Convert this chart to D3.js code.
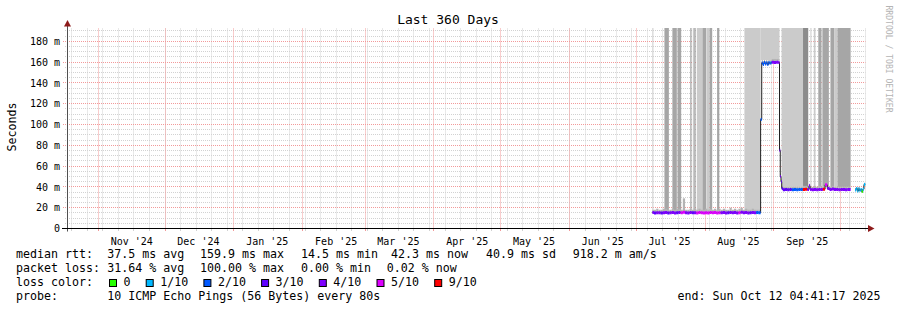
<!DOCTYPE html>
<html><head><meta charset="utf-8">
<script src="https://cdn.jsdelivr.net/npm/d3@7/dist/d3.min.js"></script>
<style>
body{margin:0;background:#fff}
svg{display:block}
text{font-family:"DejaVu Sans Mono",monospace;fill:#000}
</style>
</head><body>
<svg id="chart" width="897" height="310"></svg>
<script>
// ---------- data ----------
const title = "Last 360 Days";
const yLabel = "Seconds";
const watermark = "RRDTOOL / TOBI OETIKER";
const endTime = "2025-10-12 04:41:17";
const spanDays = 360;
const yMax = 192.3;                       // ms shown at top
const yTicks = [0, 20, 40, 60, 80, 100, 120, 140, 160, 180];
const lossLabels = ["0", "1/10", "2/10", "3/10", "4/10", "5/10", "9/10"];
const lossColors = ["#26ff00", "#00b8ff", "#0059ff", "#5e00ff", "#7e00ff", "#dd00ff", "#ff0000"];
const statsRtt = ["median rtt:", "37.5 ms avg", "159.9 ms max", "14.5 ms min", "42.3 ms now", "40.9 ms sd", "918.2 m am/s"];
const statsLoss = ["packet loss:", "31.64 % avg", "100.00 % max", "0.00 % min", "0.02 % now"];
const probeText = ["probe:", "10 ICMP Echo Pings (56 Bytes) every 80s"];
const endText = "end: Sun Oct 12 04:41:17 2025";

// median rtt [time, median ms, loss index, max ping ms]
const median = [
 ["2025-07-08 07",15.3,4,18],["2025-07-09 00",15.0,3,18],["2025-07-10 00",15.2,4,19],["2025-07-11 00",15.1,4,18],
 ["2025-07-12 00",14.9,3,18],["2025-07-13 00",15.2,4,19],["2025-07-14 00",15.4,4,19],["2025-07-15 00",15.0,3,18],
 ["2025-07-16 00",15.1,4,18],["2025-07-17 00",15.3,4,19],["2025-07-18 00",15.0,4,18],["2025-07-19 00",15.2,3,19],
 ["2025-07-20 00",15.5,4,19],["2025-07-21 00",15.1,5,18],["2025-07-22 00",15.6,5,29],["2025-07-23 00",15.2,4,18],
 ["2025-07-24 00",15.0,4,18],["2025-07-25 00",15.3,4,19],["2025-07-26 00",15.1,3,18],["2025-07-27 00",15.2,4,19],
 ["2025-07-28 00",15.0,5,18],["2025-07-29 00",15.3,5,19],["2025-07-30 00",15.1,5,18],["2025-07-31 00",14.8,5,18],
 ["2025-08-01 00",15.2,5,19],["2025-08-02 00",15.0,5,18],["2025-08-03 00",15.4,5,19],["2025-08-04 00",15.1,5,18],
 ["2025-08-05 00",15.3,5,19],["2025-08-06 00",15.0,5,18],["2025-08-07 00",15.2,5,19],["2025-08-08 00",15.1,4,18],
 ["2025-08-09 00",15.4,4,19],["2025-08-10 00",15.0,4,18],["2025-08-11 00",15.2,3,18],["2025-08-12 00",15.5,4,20],
 ["2025-08-13 00",15.1,4,18],["2025-08-14 00",15.3,4,19],["2025-08-15 00",15.0,4,18],["2025-08-16 00",15.2,5,19],
 ["2025-08-17 00",15.6,4,20],["2025-08-18 00",15.1,4,18],["2025-08-19 00",15.3,4,19],["2025-08-20 00",15.0,4,18],
 ["2025-08-21 00",15.2,3,18],["2025-08-22 00",15.4,4,19],["2025-08-23 00",15.1,4,18],["2025-08-24 00",15.3,2,18],
 ["2025-08-25 00",15.2,2,18],["2025-08-26 00",104.8,2,106],["2025-08-26 12",159.2,2,162],["2025-08-27 00",157.8,2,161],
 ["2025-08-27 12",159.6,2,162],["2025-08-28 00",158.2,2,161],["2025-08-28 12",159.4,2,162],["2025-08-29 00",157.6,2,161],
 ["2025-08-29 12",159.5,2,162],["2025-08-30 00",158.8,2,162],["2025-08-30 12",159.3,2,162],["2025-08-31 00",159.9,4,163],
 ["2025-09-01 00",159.6,4,163],["2025-09-02 00",159.8,4,163],["2025-09-03 00",159.5,4,163],["2025-09-03 12",75.0,4,78],
 ["2025-09-03 20",50.0,4,53],["2025-09-04 04",45.0,3,48],["2025-09-04 12",38.5,3,41],["2025-09-05 00",37.2,3,40],
 ["2025-09-06 00",37.5,3,40],["2025-09-07 00",37.3,3,40],["2025-09-08 00",37.4,3,40],["2025-09-09 00",37.2,2,40],
 ["2025-09-10 00",37.5,2,40],["2025-09-11 00",37.3,2,40],["2025-09-12 00",37.4,2,40],["2025-09-13 00",37.6,2,40],
 ["2025-09-14 00",37.5,6,41],["2025-09-15 00",37.8,6,41],["2025-09-16 00",37.4,4,40],["2025-09-16 18",41.0,4,43],
 ["2025-09-17 06",37.6,4,40],["2025-09-18 00",37.3,4,40],["2025-09-19 00",37.5,4,41],["2025-09-20 00",37.2,4,40],
 ["2025-09-21 00",37.6,4,41],["2025-09-22 00",37.4,4,40],["2025-09-23 00",37.8,6,41],["2025-09-24 00",42.0,5,44],
 ["2025-09-25 00",38.4,4,41],["2025-09-26 00",37.5,4,40],["2025-09-27 00",38.0,4,41],["2025-09-28 00",37.4,4,40],
 ["2025-09-29 00",37.6,4,40],["2025-09-30 00",37.3,4,40],["2025-10-01 00",37.5,4,40],["2025-10-02 00",37.4,4,40],
 ["2025-10-03 00",37.2,4,40],["2025-10-04 00",37.5,4,40],["2025-10-05 12",null,0,null],["2025-10-07 12",37.0,1,39],
 ["2025-10-08 00",38.5,1,40],["2025-10-08 12",36.0,1,38],["2025-10-09 00",38.2,1,40],["2025-10-09 12",36.5,1,38],
 ["2025-10-10 00",37.5,1,39],["2025-10-10 12",35.5,0,37],["2025-10-11 00",37.8,1,40],["2025-10-11 12",42.3,1,44]
];

// tall smoke bands (pings beyond the top): [from, to, lowest ping ms, shade level]
const smokeBands = [
 ["2025-07-08 07","2025-07-08 14",17,0],["2025-07-13 17","2025-07-15 17",17,1],["2025-07-17 07","2025-07-19 07",17,1],
 ["2025-07-19 14","2025-07-21 06",17,1],["2025-07-25 10","2025-07-25 18",17,2],["2025-07-26 12","2025-07-27 02",17,0],
 ["2025-07-27 05","2025-07-27 17",17,2],["2025-07-28 07","2025-07-30 17",17,0],["2025-07-30 19","2025-08-01 14",17,1],
 ["2025-08-01 19","2025-08-02 19",17,0],["2025-08-03 00","2025-08-04 05",17,1],["2025-08-06 10","2025-08-07 10",17,1],
 ["2025-08-18 17","2025-08-26 00",17,0],["2025-08-26 00","2025-09-03 12",162,0],["2025-09-04 10","2025-09-14 02",40,0],
 ["2025-09-14 02","2025-09-16 10",40,2],["2025-09-17 10","2025-09-17 18",40,0],["2025-09-18 22","2025-09-19 17",40,0],
 ["2025-09-21 00","2025-09-22 10",40,1],["2025-09-22 19","2025-09-25 17",40,1],["2025-09-26 10","2025-09-28 05",40,1],
 ["2025-09-28 05","2025-09-29 14",40,0],["2025-09-29 14","2025-10-05 12",40,1]
];
const shadeColors = ["#cbcbcb", "#a6a6a6", "#8c8c8c"];

// ---------- chart ----------
const parseT = d3.timeParse("%Y-%m-%d %H");
const end = d3.timeParse("%Y-%m-%d %H:%M:%S")(endTime);
const start = d3.timeDay.offset(end, -spanDays);
const svg = d3.select("#chart");
const X0 = 65.5, X1 = 865.5, Y0 = 228.5, Y1 = 28.5;
const x = d3.scaleTime().domain([start, end]).range([X0, X1]);
const y = d3.scaleLinear().domain([0, yMax]).range([Y0, Y1]);
const px = v => Math.round(v) + 0.5;

svg.append("rect").attr("width", 897).attr("height", 310).attr("fill", "#fff");

const plot = svg.append("g");
plot.append("clipPath").attr("id", "clip").append("rect")
  .attr("x", X0).attr("y", Y1 - 0.5).attr("width", X1 - X0).attr("height", Y0 - Y1 + 0.5);

const minorCol = "#d2d2d2", majorCol = "#f29a9a";
// grid: minor horizontal every 5 ms
const minorY = d3.range(5, yMax, 5).filter(v => v % 20 !== 0);
const grid = plot.append("g");
minorY.forEach(v => {
  grid.append("line").attr("x1", 65).attr("x2", X1).attr("y1", px(y(v) - 0.5)).attr("y2", px(y(v) - 0.5))
    .attr("stroke", minorCol).attr("stroke-dasharray", "1,1");
});
// minor vertical: weeks
const weeks = d3.timeSunday.range(start, end);
const months = d3.timeMonth.range(d3.timeMonth.ceil(start), end);
weeks.forEach(d => {
  const xx = px(x(d) - 0.5);
  grid.append("line").attr("x1", xx).attr("x2", xx).attr("y1", Y1).attr("y2", Y0)
    .attr("stroke", minorCol).attr("stroke-dasharray", "1,1");
  grid.append("line").attr("x1", xx).attr("x2", xx).attr("y1", Y0).attr("y2", Y0 + 2.5).attr("stroke", minorCol);
});
// major horizontal
yTicks.filter(v => v > 0).forEach(v => {
  const yy = px(y(v) - 0.5);
  grid.append("line").attr("x1", 63).attr("x2", X1).attr("y1", yy).attr("y2", yy)
    .attr("stroke", majorCol).attr("stroke-dasharray", "1,1");
});
// major vertical: months
months.forEach(d => {
  const xx = px(x(d) - 0.5);
  grid.append("line").attr("x1", xx).attr("x2", xx).attr("y1", Y1).attr("y2", Y0)
    .attr("stroke", majorCol).attr("stroke-dasharray", "1,1");
  grid.append("line").attr("x1", xx).attr("x2", xx).attr("y1", Y0).attr("y2", Y0 + 2.5).attr("stroke", majorCol);
});

// data layer
const data = plot.append("g").attr("clip-path", "url(#clip)");

smokeBands.forEach(b => {
  const t0 = parseT(b[0]), t1 = parseT(b[1]);
  data.append("rect").attr("x", x(t0)).attr("width", Math.max(1, x(t1) - x(t0)))
    .attr("y", Y1 - 1).attr("height", y(b[2]) - Y1 + 1).attr("fill", shadeColors[b[3]]);
});

const pts = median.map((r, i) => ({
  t: parseT(r[0]), v: r[1], loss: r[2], hi: r[3],
  tn: i < median.length - 1 ? parseT(median[i + 1][0]) : end
}));

// low smoke (spread of pings above the median)
pts.forEach(p => {
  if (p.v == null) return;
  data.append("rect").attr("x", x(p.t)).attr("width", x(p.tn) - x(p.t))
    .attr("y", y(p.hi)).attr("height", Math.max(0, y(p.v) - y(p.hi))).attr("fill", "#b4b4b4");
});

// dark median connector line
const line = d3.line().defined(d => d.v != null).x(d => x(d.t)).y(d => y(d.v)).curve(d3.curveStepAfter);
data.append("path").datum(pts.concat([{ t: pts[pts.length - 1].tn, v: pts[pts.length - 1].v }]))
  .attr("d", line).attr("fill", "none").attr("stroke", "#202020").attr("stroke-width", 1);

// loss coloured median segments
pts.forEach(p => {
  if (p.v == null) return;
  data.append("line").attr("x1", x(p.t)).attr("x2", x(p.tn)).attr("y1", y(p.v)).attr("y2", y(p.v))
    .attr("stroke", lossColors[p.loss]).attr("stroke-width", 3);
});

// axes
plot.append("line").attr("x1", 67.5).attr("x2", 67.5).attr("y1", Y0 + 3).attr("y2", 24).attr("stroke", "#505050");
plot.append("line").attr("x1", 62).attr("x2", 869).attr("y1", Y0).attr("y2", Y0).attr("stroke", "#000");
plot.append("path").attr("d", "M64,26.5 L71,26.5 L67.5,20 Z").attr("fill", "#8e1b1b");
plot.append("path").attr("d", "M868,225 L868,232 L874.5,228.5 Z").attr("fill", "#8e1b1b");

// y tick labels
yTicks.forEach(v => {
  svg.append("text").attr("x", 60).attr("y", y(v) + 3.8).attr("text-anchor", "end")
    .style("font-size", "10px").text(v === 0 ? "0" : v + " m");
});
// x month labels centered mid month
const fmt = d3.timeFormat("%b '%y");
months.concat([d3.timeMonth.floor(start)]).forEach(d => {
  const mid = d3.timeDay.offset(d, 15);
  if (mid < start || mid > end) return;
  svg.append("text").attr("x", x(mid)).attr("y", 244.5).attr("text-anchor", "middle")
    .style("font-size", "10px").text(fmt(d));
});

// title and axis title
svg.append("text").attr("x", 448).attr("y", 23.5).attr("text-anchor", "middle").style("font-size", "13px").text(title);
svg.append("text").attr("transform", "translate(15.5,127) rotate(-90)").attr("text-anchor", "middle")
  .style("font-size", "11.6px").text(yLabel);
svg.append("text").attr("transform", "translate(886,59) rotate(90)").attr("text-anchor", "middle")
  .style("font-size", "8.1px").style("fill", "#b4b4b4").text(watermark);

// legend
const fs = "11.63px";
const statXRtt = [16, 107.3, 200, 301, 391, 486, 572.7];
const statXLoss = [16, 107.3, 200, 301, 386.7];
statsRtt.forEach((s, i) => svg.append("text").attr("x", statXRtt[i]).attr("y", 258.3).style("font-size", fs).text(s));
statsLoss.forEach((s, i) => svg.append("text").attr("x", statXLoss[i]).attr("y", 272.3).style("font-size", fs).text(s));
svg.append("text").attr("x", 16).attr("y", 286.3).style("font-size", fs).text("loss color:");
let cx = 109;
lossLabels.forEach((l, i) => {
  svg.append("rect").attr("x", cx + 0.5).attr("y", 279.5).attr("width", 7).attr("height", 7)
    .attr("fill", lossColors[i]).attr("stroke", "#000");
  const t = svg.append("text").attr("x", cx + 14.5).attr("y", 286.3).style("font-size", fs).text(l);
  cx = cx + 14.5 + t.node().getComputedTextLength() + 15.2;
});
svg.append("text").attr("x", 16).attr("y", 300.3).style("font-size", fs).text(probeText[0]);
svg.append("text").attr("x", 107.3).attr("y", 300.3).style("font-size", fs).text(probeText[1]);
svg.append("text").attr("x", 880.5).attr("y", 300.3).attr("text-anchor", "end").style("font-size", fs).text(endText);
</script>
</body></html>
